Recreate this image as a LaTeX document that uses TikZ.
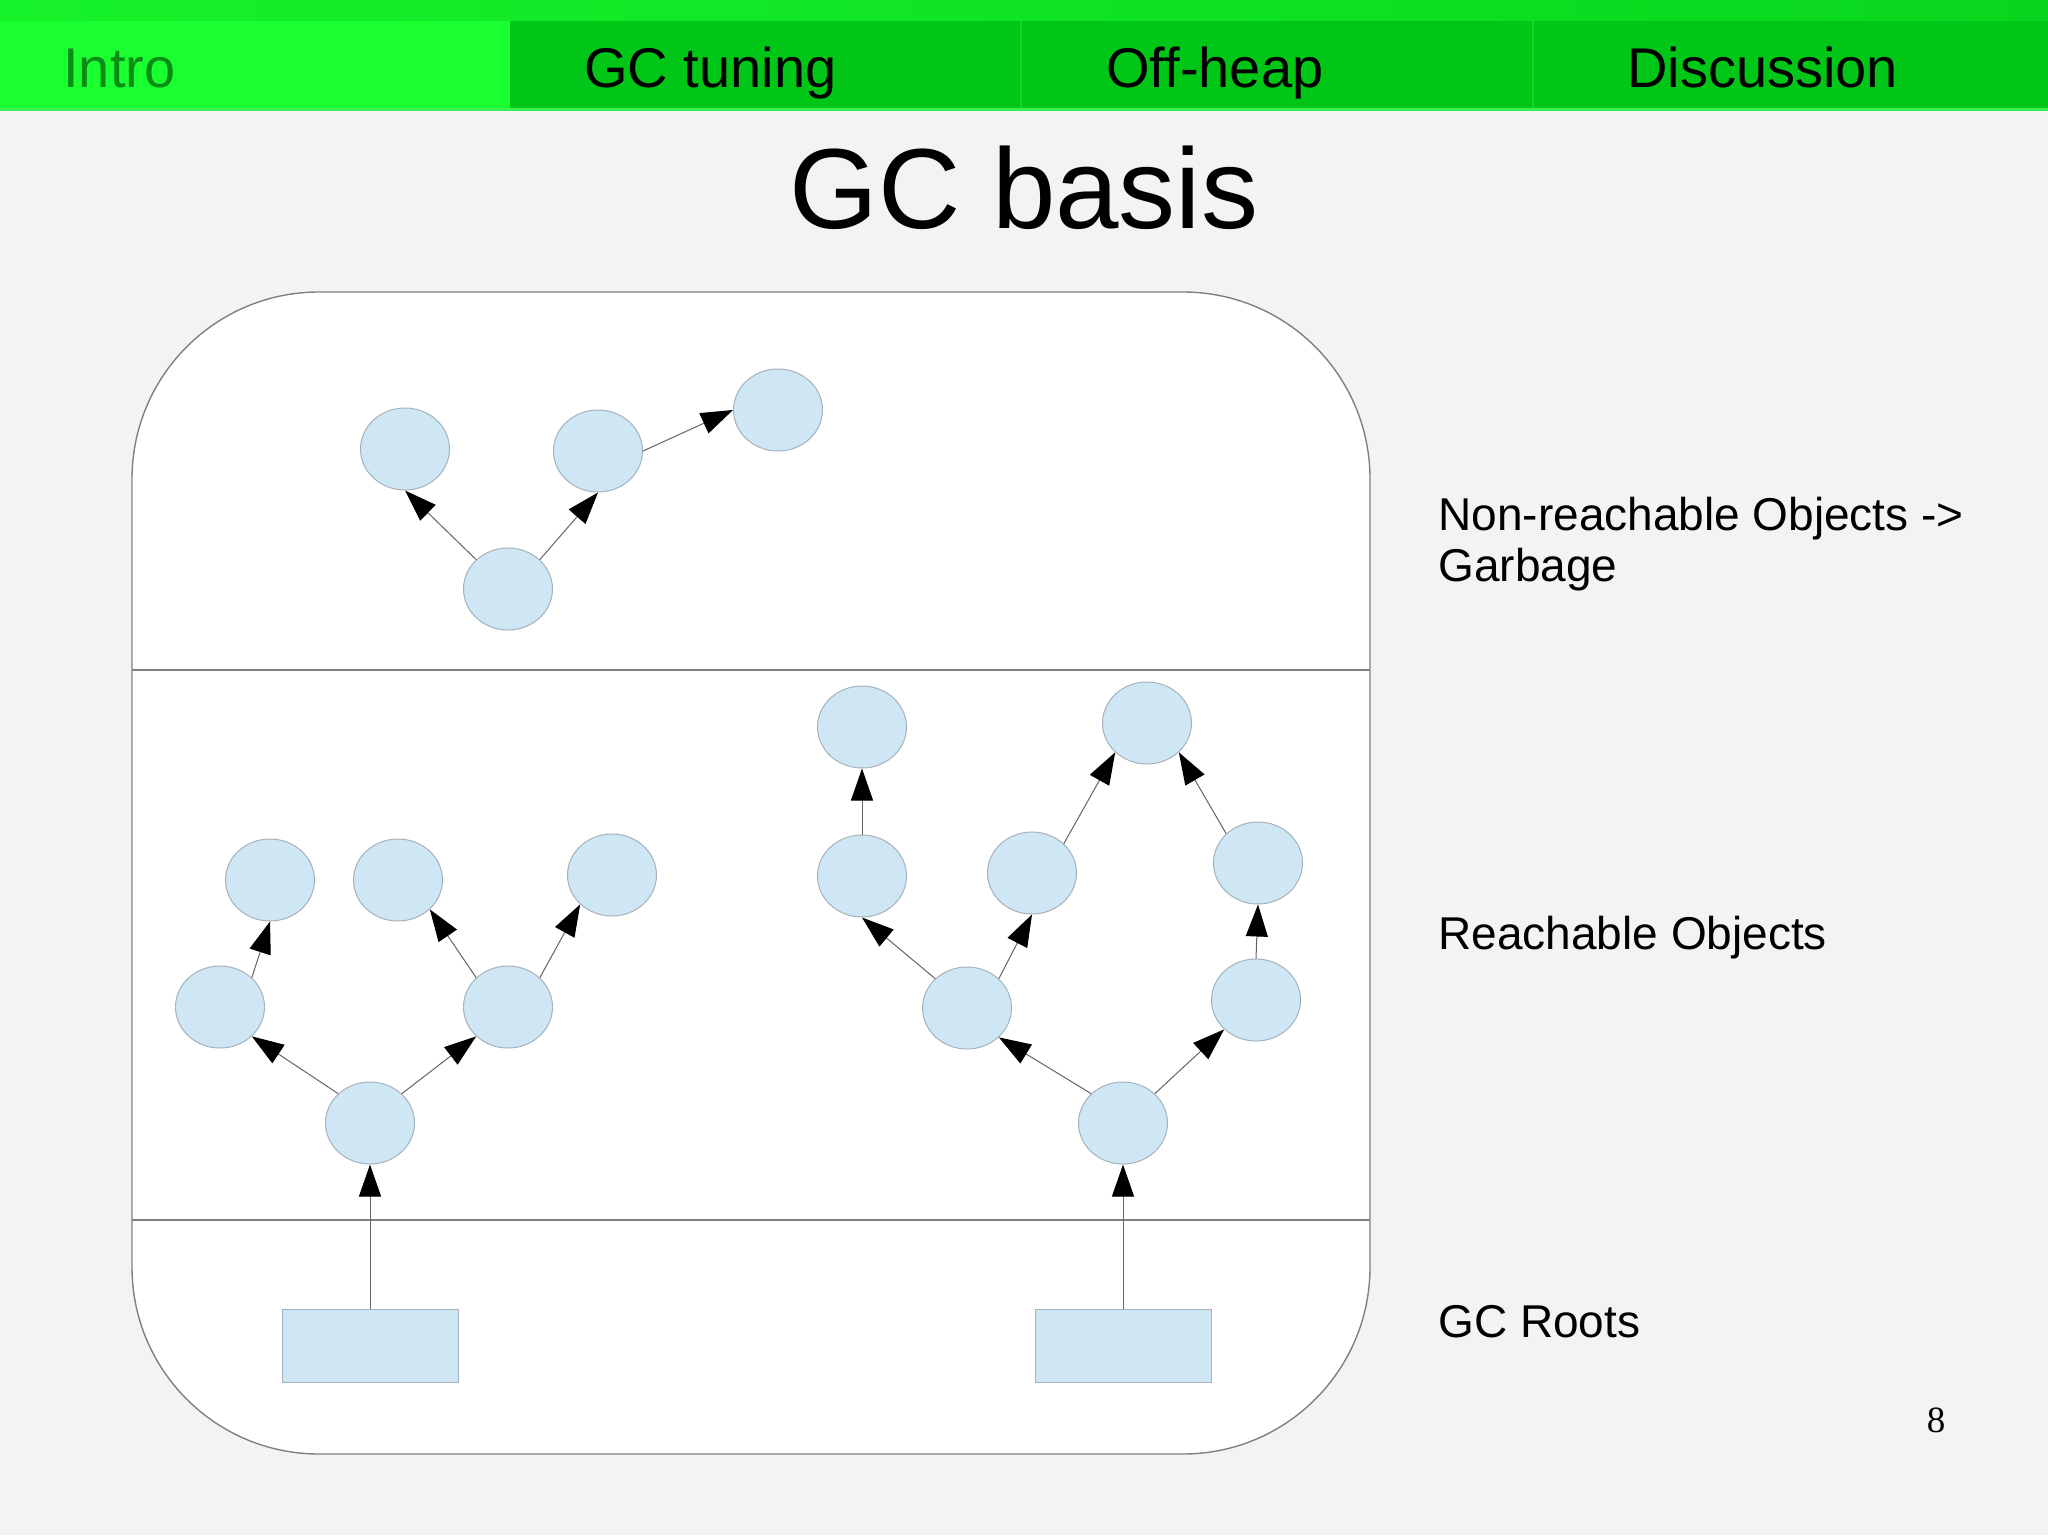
\documentclass[tikz,border=0pt]{standalone}
\usepackage{fontspec}
\setmainfont{Liberation Sans}
\newfontfamily\numfont{Liberation Serif}
\usetikzlibrary{arrows.meta,shapes.geometric}
\definecolor{bgc}{RGB}{243,242,245}
\definecolor{topgreen}{RGB}{22,242,42}
\definecolor{topgreenR}{RGB}{8,214,30}
\definecolor{tabon}{RGB}{26,255,48}
\definecolor{taboff}{RGB}{0,198,24}
\definecolor{tabsep}{RGB}{18,214,38}
\definecolor{tabline}{RGB}{60,240,80}
\definecolor{introtxt}{RGB}{12,140,22}
\definecolor{objfill}{RGB}{207,230,244}
\definecolor{objline}{RGB}{165,178,190}
\definecolor{frameline}{RGB}{128,128,128}
\definecolor{arrline}{RGB}{100,100,100}
\begin{document}
\begin{tikzpicture}[x=0.5pt,y=-0.5pt,
  obj/.style={ellipse, draw=objline, fill=objfill, line width=0.5pt, minimum width=44.5pt, minimum height=41pt, inner sep=0pt},
  rootbox/.style={rectangle, draw=objline, fill=objfill, line width=0.5pt, minimum width=88pt, minimum height=36.5pt, inner sep=0pt},
  ref/.style={draw=arrline, line width=0.5pt, -{Triangle[length=16pt,width=11pt,color=black]}},
  tabtxt/.style={anchor=base west, inner sep=0pt, font=\fontsize{28}{34}\selectfont},
  lbl/.style={anchor=base west, inner sep=0pt, align=left, font=\fontsize{23}{25.5}\selectfont},
  frame/.style={draw=frameline, line width=0.7pt}
]
\useasboundingbox (0,0) rectangle (2048,1535);
\fill[bgc] (0,0) rectangle (2048,1535);
% header
\shade[left color=topgreen, right color=topgreenR] (0,0) rectangle (2048,21);
\fill[tabon] (0,21) rectangle (510,108);
\fill[taboff] (510,21) rectangle (2048,108);
\draw[tabsep, line width=0.8pt] (1021,21) -- (1021,108);
\draw[tabsep, line width=0.8pt] (1533,21) -- (1533,108);
\fill[tabline] (0,108) rectangle (2048,111);
\node[tabtxt, text=introtxt] (tabIntro) at (63,88) {Intro};
\node[tabtxt] (tabGC) at (584,88) {GC tuning};
\node[tabtxt] (tabOff) at (1106,88) {Off-heap};
\node[tabtxt] (tabDisc) at (1627,88) {Discussion};
% title
\node[anchor=base, inner sep=0pt, font=\fontsize{57}{68}\selectfont] (title) at (1024,229) {GC basis};
% frame
\draw[frame, fill=white, rounded corners=93.5pt] (132,292) rectangle (1370,1454);
\draw[frame] (132,670) -- (1370,670);
\draw[frame] (132,1220) -- (1370,1220);
% garbage
\node[obj] (a1) at (405,449) {};
\node[obj] (a2) at (598,451) {};
\node[obj] (a3) at (778,410) {};
\node[obj] (a4) at (508,589) {};
\draw[ref] (a4.north west) -- (a1.south);
\draw[ref] (a4.north east) -- (a2.south);
\draw[ref] (a2.east) -- (a3.west);
% left tree
\node[obj] (b1) at (370,1123) {};
\node[obj] (b2) at (220,1007) {};
\node[obj] (b3) at (508,1007) {};
\node[obj] (b4) at (270,880) {};
\node[obj] (b5) at (398,880) {};
\node[obj] (b6) at (612,875) {};
\draw[ref] (b1.north west) -- (b2.south east);
\draw[ref] (b1.north east) -- (b3.south west);
\draw[ref] (b2.north east) -- (b4.south);
\draw[ref] (b3.north west) -- (b5.south east);
\draw[ref] (b3.north east) -- (b6.south west);
% right tree
\node[obj] (c1) at (1123,1123) {};
\node[obj] (c2) at (967,1008) {};
\node[obj] (c3) at (1256,1000) {};
\node[obj] (c4) at (862,876) {};
\node[obj] (c5) at (1032,873) {};
\node[obj] (c6) at (1258,863) {};
\node[obj] (c7) at (862,727) {};
\node[obj] (c8) at (1147,723) {};
\draw[ref] (c1.north west) -- (c2.south east);
\draw[ref] (c1.north east) -- (c3.south west);
\draw[ref] (c2.north west) -- (c4.south);
\draw[ref] (c2.north east) -- (c5.south);
\draw[ref] (c4.north) -- (c7.south);
\draw[ref] (c5.north east) -- (c8.south west);
\draw[ref] (c3.north) -- (c6.south);
\draw[ref] (c6.north west) -- (c8.south east);
% roots
\node[rootbox] (r1) at (370,1346) {};
\node[rootbox] (r2) at (1123,1346) {};
\draw[ref] (r1.north) -- (b1.south);
\draw[ref] (r2.north) -- (c1.south);
% labels
\node[lbl] (garbLbl) at (1438,581) {Non-reachable Objects ->\\Garbage};
\node[lbl] (reachLbl) at (1438,949) {Reachable Objects};
\node[lbl] (rootLbl) at (1438,1337) {GC Roots};
\node[anchor=base, inner sep=0pt, font=\numfont\fontsize{18.5}{22}\selectfont] (pageNum) at (1936,1432) {8};
\end{tikzpicture}
\end{document}
